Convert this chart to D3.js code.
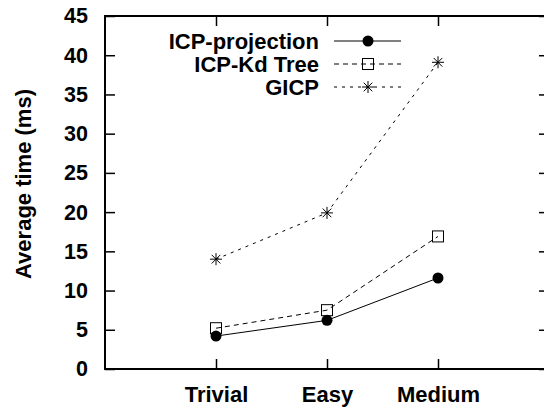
<!DOCTYPE html>
<html lang="en">
<head>
    <meta charset="UTF-8">
    <title>Average time</title>
    <script src="https://d3js.org/d3.v7.min.js"></script>
    <style>
        body { margin: 0; background: #fff; }
        text { font-family: "Liberation Sans", Arial, sans-serif; font-weight: bold; fill: #000; }
    </style>
</head>
<body>
    <svg id="chart" width="544" height="408"></svg>

    <script>
        // data
        const categories = ["Trivial", "Easy", "Medium"];
        const seriesNames = ["ICP-projection", "ICP-Kd Tree", "GICP"];
        const icpProjection = [4.2, 6.2, 11.6];
        const icpKdTree = [5.2, 7.5, 16.9];
        const gicp = [14.0, 19.9, 39.1];
        const yTicks = [0, 5, 10, 15, 20, 25, 30, 35, 40, 45];

        const series = [
            { name: seriesNames[0], values: icpProjection, dash: null, marker: "circle" },
            { name: seriesNames[1], values: icpKdTree, dash: "5,4", marker: "square" },
            { name: seriesNames[2], values: gicp, dash: "3,5", marker: "star" }
        ];

        const svg = d3.select("#chart");
        const plotLeft = 105, plotRight = 549, plotTop = 16, plotBottom = 369;

        // categories sit at 1..3 on a 0..4 axis
        const x = d3.scaleLinear().domain([0, 4]).range([plotLeft, plotRight]);
        const y = d3.scaleLinear().domain([0, 45]).range([plotBottom, plotTop]);

        // ticks (gnuplot style, pointing inward)
        svg.append("g")
            .attr("transform", `translate(${plotLeft},0)`)
            .call(d3.axisLeft(y).tickValues(yTicks).tickSize(-10).tickPadding(17))
            .call(g => g.select(".domain").remove())
            .call(g => g.selectAll("line").attr("stroke-width", 1.5))
            .call(g => g.selectAll("text").attr("font-size", 21.5));

        svg.append("g")
            .attr("transform", `translate(${plotRight},0)`)
            .call(d3.axisRight(y).tickValues(yTicks).tickSize(-10).tickFormat(""))
            .call(g => g.select(".domain").remove())
            .call(g => g.selectAll("line").attr("stroke-width", 1.5));

        svg.append("g")
            .attr("transform", `translate(0,${plotBottom})`)
            .call(d3.axisBottom(x).tickValues([1, 2, 3]).tickSize(-10).tickPadding(17)
                .tickFormat(d => categories[d - 1]))
            .call(g => g.select(".domain").remove())
            .call(g => g.selectAll("line").attr("stroke-width", 1.5))
            .call(g => g.selectAll("text").attr("font-size", 22));

        svg.append("g")
            .attr("transform", `translate(0,${plotTop})`)
            .call(d3.axisTop(x).tickValues([1, 2, 3]).tickSize(-10).tickFormat(""))
            .call(g => g.select(".domain").remove())
            .call(g => g.selectAll("line").attr("stroke-width", 1.5));

        // border
        svg.append("rect")
            .attr("x", plotLeft).attr("y", plotTop)
            .attr("width", plotRight - plotLeft).attr("height", plotBottom - plotTop)
            .attr("fill", "none").attr("stroke", "#000").attr("stroke-width", 2);

        // y axis title
        svg.append("text")
            .attr("transform", "translate(31,184) rotate(-90)")
            .attr("text-anchor", "middle")
            .attr("font-size", 22)
            .text("Average time (ms)");

        function drawMarker(g, type, cx, cy) {
            if (type === "circle") {
                g.append("circle").attr("cx", cx).attr("cy", cy).attr("r", 5.5).attr("fill", "#000");
            } else if (type === "square") {
                g.append("rect").attr("x", cx - 5.5).attr("y", cy - 5.5)
                    .attr("width", 11).attr("height", 11)
                    .attr("fill", "none").attr("stroke", "#000").attr("stroke-width", 1);
            } else {
                const r = 6;
                const p = d3.path();
                p.moveTo(cx - r, cy); p.lineTo(cx + r, cy);
                p.moveTo(cx, cy - r); p.lineTo(cx, cy + r);
                p.moveTo(cx - r * 0.72, cy - r * 0.72); p.lineTo(cx + r * 0.72, cy + r * 0.72);
                p.moveTo(cx - r * 0.72, cy + r * 0.72); p.lineTo(cx + r * 0.72, cy - r * 0.72);
                g.append("path").attr("d", p.toString()).attr("stroke", "#000").attr("stroke-width", 1);
            }
        }

        const line = d3.line().x((d, i) => x(i + 1)).y(d => y(d));

        series.forEach(s => {
            const g = svg.append("g");
            g.append("path")
                .attr("d", line(s.values))
                .attr("fill", "none")
                .attr("stroke", "#000")
                .attr("stroke-width", 1)
                .attr("stroke-dasharray", s.dash);
            s.values.forEach((v, i) => drawMarker(g, s.marker, x(i + 1), y(v)));
        });

        // legend
        const legendRows = [41, 64, 87];
        series.forEach((s, i) => {
            const g = svg.append("g");
            const ly = legendRows[i];
            g.append("text")
                .attr("x", 319).attr("y", ly)
                .attr("dy", "0.35em")
                .attr("text-anchor", "end")
                .attr("font-size", 22)
                .text(s.name);
            g.append("line")
                .attr("x1", 334).attr("x2", 401)
                .attr("y1", ly).attr("y2", ly)
                .attr("stroke", "#000").attr("stroke-width", 1)
                .attr("stroke-dasharray", s.dash);
            drawMarker(g, s.marker, 368, ly);
        });
    </script>
</body>
</html>
